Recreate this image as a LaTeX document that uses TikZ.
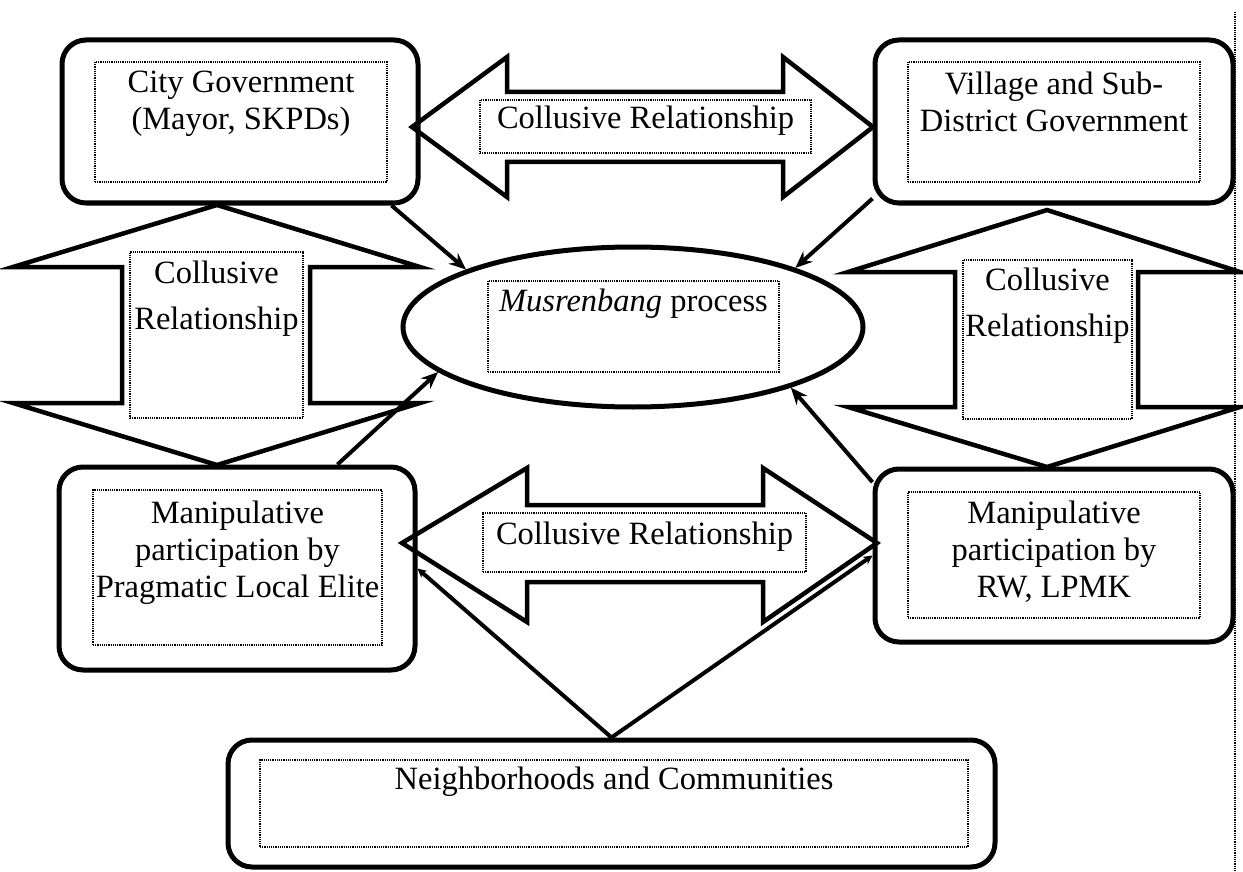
\documentclass[tikz,border=0pt]{standalone}
\usepackage{fontspec}
\setmainfont{Liberation Serif}
\usetikzlibrary{arrows.meta, positioning, calc, shapes.geometric}

\begin{document}
\begin{tikzpicture}[
  x=1pt, y=-1pt,
  >={Stealth[length=17pt, width=14pt]},
  outer/.style={draw, line width=5pt, fill=white, rounded corners=24pt, inner sep=0pt},
  inbox/.style={draw, line width=1.2pt, dash pattern=on 1.2pt off 1pt, inner sep=0pt},
  lbl/.style={font=\fontsize{32.5}{37}\selectfont, align=center, inner sep=0pt},
  blk/.style={draw, line width=4.5pt, line join=miter},
  arr/.style={->, line width=4pt},
  thinarr/.style={-{Stealth[length=9pt, width=9pt]}, line width=4pt},
]

\useasboundingbox (0,0) rectangle (1243,872);

% Dotted page edge
\draw[line width=1.2pt, dash pattern=on 1.2pt off 1pt] (1235,12) -- (1235,872);

% === City Government ===
\node[outer, minimum width=356pt, minimum height=163pt] (cg) at (240,121.5) {};
\node[inbox, minimum width=292pt, minimum height=120pt] (cgin) at (241,122) {};
\node[lbl, below=9pt of cgin.north] (cgtxt) {City Government\\(Mayor, SKPDs)};

% === Village and Sub-District Government ===
\node[outer, minimum width=358pt, minimum height=163pt] (vg) at (1054,121.5) {};
\node[inbox, minimum width=292pt, minimum height=120pt] (vgin) at (1054,122) {};
\node[lbl, below=10pt of vgin.north] (vgtxt) {Village and Sub-\\District Government};

% === Musrenbang process ===
\node[draw, ellipse, line width=5pt, fill=white, minimum width=460pt,
  minimum height=160pt, inner sep=0pt] (ell) at (633,327) {};
\node[inbox, minimum width=291pt, minimum height=91pt] (ellin) at (633.5,326.5) {};
\node[lbl, below=8pt of ellin.north] (elltxt) {\textit{Musrenbang} process};

% === Manipulative participation boxes ===
\node[outer, minimum width=356pt, minimum height=203pt] (bl) at (237,568.5) {};
\node[inbox, minimum width=289pt, minimum height=155pt] (blin) at (237.5,567.5) {};
\node[lbl, below=11pt of blin.north] (bltxt)
  {Manipulative\\participation by\\Pragmatic Local Elite};

\node[outer, minimum width=358pt, minimum height=173pt] (br) at (1054,555.5) {};
\node[inbox, minimum width=292pt, minimum height=126pt] (brin) at (1054,555) {};
\node[lbl, below=9pt of brin.north] (brtxt)
  {Manipulative\\participation by\\RW, LPMK};

% === Neighborhoods and Communities ===
\node[outer, minimum width=767pt, minimum height=127pt] (nb) at (611.5,803.5) {};
\node[inbox, minimum width=708pt, minimum height=87pt] (nbin) at (614,803.5) {};
\node[lbl, below=7pt of nbin.north] (nbtxt) {Neighborhoods and Communities};

% === Block arrows (collusive relationships) ===
\draw[blk] (412,127) -- (507,57) -- (507,92) -- (783,92) -- (783,57) -- (873,127)
  -- (783,197) -- (783,162) -- (507,162) -- (507,197) -- cycle;
\draw[blk] (217,205) -- (420,267) -- (310,267) -- (310,403) -- (420,403) -- (217,465)
  -- (13,403) -- (122,403) -- (122,267) -- (13,267) -- cycle;
\draw[blk] (1047,210) -- (1240,272) -- (1138,272) -- (1138,407) -- (1240,407) -- (1047,467)
  -- (848,407) -- (955,407) -- (955,272) -- (848,272) -- cycle;
\draw[blk] (402,543) -- (527,468) -- (527,505) -- (763,505) -- (763,468) -- (877,543)
  -- (763,622) -- (763,582) -- (527,582) -- (527,622) -- cycle;

% Labels on block arrows
\node[inbox, minimum width=331pt, minimum height=53pt] (topin) at (645.5,126.5) {};
\node[lbl, below=6pt of topin.north] (toptxt) {Collusive Relationship};
\node[inbox, minimum width=173pt, minimum height=166pt] (leftin) at (216.5,335) {};
\node[lbl, below=9pt of leftin.north] (lefttxt) {Collusive\\[9pt]Relationship};
\node[inbox, minimum width=169pt, minimum height=159pt] (rightin) at (1047.5,339.5) {};
\node[lbl, below=8pt of rightin.north] (righttxt) {Collusive\\[9pt]Relationship};
\node[inbox, minimum width=323pt, minimum height=59pt] (botin) at (644.5,542.5) {};
\node[lbl, below=9pt of botin.north] (bottxt) {Collusive Relationship};

% Arrows into the process
\draw[arr] (cg.-29) -- (ell.161);
\draw[arr] (vg.203) -- (ell.20);
\draw[arr] (bl.46) -- (ell.193);
\draw[arr] (br.158) -- (ell.-21);

% Arrows from the communities
\draw[thinarr] (nb.north) -- (bl.east);
\draw[thinarr] (nb.north) -- (br.west);

\end{tikzpicture}
\end{document}
